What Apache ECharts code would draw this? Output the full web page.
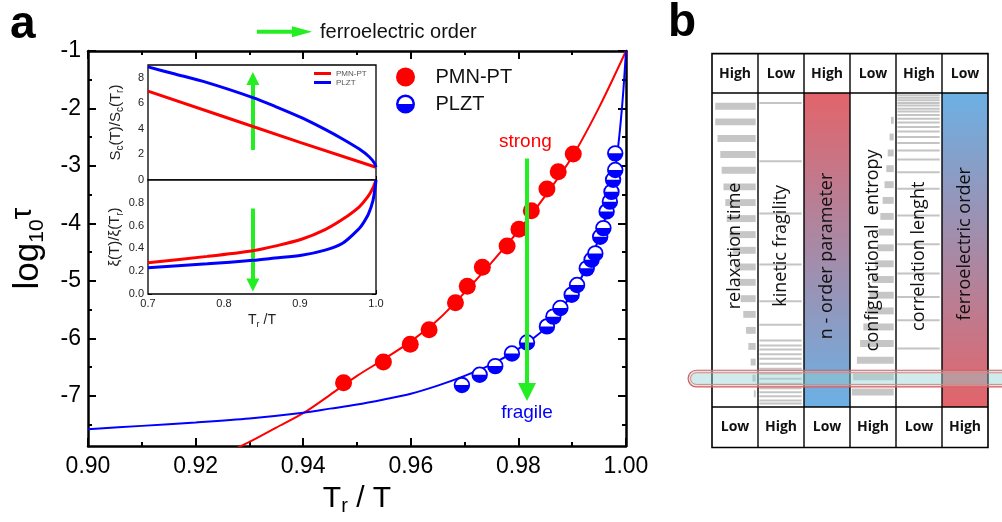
<!DOCTYPE html>
<html>
<head>
<meta charset="utf-8">
<script src="https://cdn.jsdelivr.net/npm/echarts@6/dist/echarts.min.js"></script>
<style>
html, body { margin: 0; padding: 0; background: #fff; }
#chart { width: 1002px; height: 522px; }
</style>
</head>
<body>
<div id="chart"></div>
<script>
// ---------- Panel a: relaxation time vs reduced temperature ----------
const pmnPoints = [[0.9475,-6.77],[0.9549,-6.41],[0.9599,-6.10],[0.9634,-5.85],[0.9683,-5.38],[0.9705,-5.09],[0.9733,-4.76],[0.9779,-4.39],[0.9801,-4.10],[0.9824,-3.78],[0.9853,-3.40],[0.9874,-3.10],[0.9902,-2.79]];
const plztPoints = [[0.9695,-6.81],[0.9728,-6.63],[0.9757,-6.48],[0.9788,-6.26],[0.9816,-6.07],[0.9853,-5.79],[0.9865,-5.62],[0.9878,-5.47],[0.9899,-5.24],[0.9909,-5.07],[0.9927,-4.78],[0.9936,-4.63],[0.9943,-4.52],[0.9952,-4.23],[0.9958,-4.08],[0.9964,-3.79],[0.9970,-3.62],[0.9973,-3.45],[0.9976,-3.24],[0.9980,-3.07],[0.9980,-2.78]];
const pmnFit = [[0.926,-7.98],[0.930,-7.80],[0.935,-7.55],[0.940,-7.30],[0.945,-6.98],[0.950,-6.65],[0.955,-6.36],[0.960,-6.05],[0.965,-5.68],[0.970,-5.20],[0.975,-4.68],[0.980,-4.13],[0.985,-3.52],[0.990,-2.84],[0.995,-1.98],[1.000,-1.00]];
const plztFit = [[0.900,-7.58],[0.910,-7.52],[0.920,-7.46],[0.930,-7.39],[0.940,-7.29],[0.945,-7.22],[0.950,-7.15],[0.955,-7.06],[0.960,-6.96],[0.965,-6.82],[0.970,-6.65],[0.975,-6.45],[0.980,-6.18],[0.985,-5.82],[0.990,-5.22],[0.993,-4.70],[0.995,-4.25],[0.997,-3.60],[0.998,-3.05],[0.9985,-2.70],[0.999,-2.25],[0.9995,-1.70],[1.000,-1.00]];
const yTicks = [-7,-6,-5,-4,-3,-2,-1];
const yMinorTicks = [-7.5,-6.5,-5.5,-4.5,-3.5,-2.5,-1.5];

// inset: configurational entropy and correlation length ratios
const scPmn = [[0.70,6.95],[0.80,4.95],[0.90,2.95],[1.00,1.00]];
const scPlzt = [[0.70,8.85],[0.733,8.33],[0.778,7.62],[0.838,6.45],[0.867,5.77],[0.902,4.88],[0.933,3.96],[0.956,3.21],[0.978,2.42],[0.991,1.82],[0.998,1.32],[1.00,1.00]];
const xiPmn = [[0.70,0.275],[0.778,0.33],[0.838,0.38],[0.867,0.42],[0.902,0.48],[0.933,0.565],[0.956,0.655],[0.978,0.765],[0.990,0.86],[0.996,0.93],[1.00,1.00]];
const xiPlzt = [[0.70,0.23],[0.778,0.265],[0.838,0.295],[0.867,0.315],[0.902,0.34],[0.933,0.385],[0.956,0.445],[0.978,0.575],[0.984,0.63],[0.990,0.70],[0.996,0.82],[0.999,0.94],[1.00,1.00]];

// arrows (tail, head) in data units
const fragilityArrow = [[0.9816,-2.87],[0.9816,-6.93]];
const entropyArrow = [[0.838,2.35],[0.838,7.95]];
const lengthArrow = [[0.838,0.75],[0.838,0.08]];

// ---------- Panel b: schematic of the quantities ----------
const bColumns = ['relaxation time','kinetic fragility','n - order parameter','configurational  entropy','correlation lenght','ferroelectric order'];
const bTop = ['High','Low','High','Low','High','Low'];
const bBottom = ['Low','High','Low','High','Low','High'];
const relaxPos = [4.2,9.2,14.5,19.6,24.6,29.9,34.9,40.0,45.1,50.1,55.4,60.3,65.5,70.5,75.6,80.7,85.7,90.8,95.8];
const relaxLen = [0.88,0.88,0.83,0.77,0.74,0.70,0.66,0.63,0.57,0.50,0.45,0.38,0.33,0.27,0.21,0.16,0.11,0.07,0.04];
const kineticLines = [3.2,21.7,38.4,54.6,66.3,73.8,78.8,80.4,81.7,83.2,84.6,86.2,87.8,89.4,91.0,92.6,94.0,95.3,96.6,97.9,98.9];
const entropyPos = [8.7,14.0,19.1,24.1,29.2,34.2,39.3,44.3,49.3,54.4,59.4,64.4,69.4,74.5,79.8,85.1,90.4,95.2];
const entropyLen = [0.06,0.09,0.13,0.16,0.20,0.24,0.29,0.33,0.36,0.41,0.47,0.53,0.58,0.66,0.73,0.80,0.88,0.91];
const correlationLines = [0.7,1.5,2.3,3.2,4.0,5.0,5.9,7.0,8.2,9.4,10.8,12.3,14.0,15.9,18.3,21.2,25.2,30.5,39.0,48.2,57.5,65.0,72.4,81.4];
const highlightBand = [88.3, 93.6];

const RED = '#ff0000', BLUE = '#0000ff', GREEN = '#22ee22';
const SANS = 'Liberation Sans, Arial, sans-serif';
const OPEN = 'Open Sans, sans-serif';
const HALF_ICON = 'path://M-1,0A1,1,0,1,1,1,0A1,1,0,1,1,-1,0ZM-0.74,0L0.74,0A0.74,0.74,0,0,0,-0.74,0Z';

function mainTicks(values, len) {
  return { show: true, inside: true, length: len, customValues: values, lineStyle: { color: '#000', width: 2 } };
}

const arrowMark = (pair, size, width) => ({
  silent: true,
  symbol: ['none', 'triangle'],
  symbolSize: size,
  label: { show: false },
  emphasis: { disabled: true },
  itemStyle: { color: GREEN },
  lineStyle: { color: GREEN, width: width, type: 'solid', opacity: 1 },
  data: [[{ coord: pair[0] }, { coord: pair[1] }]]
});

const insetTick = { show: true, inside: true, length: 4, lineStyle: { color: '#000', width: 1 } };
const insetMinor = { show: true, splitNumber: 2, length: 2, lineStyle: { color: '#000', width: 1 } };
const subRich = (big, small, color) => ({
  t: { fontSize: big, lineHeight: big + 4, color: color, fontFamily: SANS },
  s: { fontSize: small, lineHeight: small, verticalAlign: 'bottom', color: color, fontFamily: SANS }
});

const option = {
  animation: false,
  backgroundColor: '#fff',
  textStyle: { fontFamily: SANS },
  grid: [
    { left: 87, top: 51, width: 539, height: 395, show: false },
    { left: 148, top: 65, width: 228, height: 115, show: true, backgroundColor: '#fff', borderColor: '#000', borderWidth: 1.3, z: 3 },
    { left: 148, top: 180, width: 228, height: 114, show: true, backgroundColor: '#fff', borderColor: '#000', borderWidth: 1.3, z: 3 },
    { left: 712, top: 93, width: 276, height: 314, show: false }
  ],
  xAxis: [
    { gridIndex: 0, type: 'value', position: 'bottom', min: 0.9, max: 1.0, interval: 0.02,
      axisLine: { onZero: false, lineStyle: { color: '#000', width: 2.5 } },
      axisTick: { inside: true, length: 8, lineStyle: { color: '#000', width: 2 } },
      minorTick: { show: true, splitNumber: 2, length: 4, lineStyle: { color: '#000', width: 2 } },
      splitLine: { show: false },
      axisLabel: { formatter: v => v.toFixed(2), fontSize: 23, color: '#000', margin: 9 },
      name: '{t|T}{s|r}{t| / T}', nameLocation: 'middle', nameGap: 36,
      nameTextStyle: { rich: subRich(30, 20, '#000') } },
    { gridIndex: 0, type: 'value', position: 'top', min: 0.9, max: 1.0, interval: 0.02,
      axisLine: { onZero: false, lineStyle: { color: '#000', width: 2.5 } },
      axisTick: { inside: true, length: 8, lineStyle: { color: '#000', width: 2 } },
      minorTick: { show: true, splitNumber: 2, length: 4, lineStyle: { color: '#000', width: 2 } },
      splitLine: { show: false }, axisLabel: { show: false } },
    { gridIndex: 1, type: 'value', min: 0.7, max: 1.0, interval: 0.1,
      axisLine: { show: false, onZero: false }, axisTick: insetTick, minorTick: insetMinor,
      splitLine: { show: false }, axisLabel: { show: false } },
    { gridIndex: 2, type: 'value', min: 0.7, max: 1.0, interval: 0.1,
      axisLine: { show: false, onZero: false }, axisTick: insetTick, minorTick: insetMinor,
      splitLine: { show: false },
      axisLabel: { formatter: v => v.toFixed(1), fontSize: 11, color: '#222', margin: 4 },
      name: '{t|T}{s|r}{t| /T}', nameLocation: 'middle', nameGap: 17,
      nameTextStyle: { rich: subRich(14, 9, '#222') } },
    { gridIndex: 3, type: 'value', min: 0, max: 6, show: false }
  ],
  yAxis: [
    { gridIndex: 0, type: 'value', position: 'left', min: -7.87, max: -1,
      axisLine: { show: true, onZero: false, lineStyle: { color: '#000', width: 2.5 } },
      axisTick: mainTicks(yTicks, 8),
      axisLabel: { customValues: yTicks, fontSize: 23, color: '#000', margin: 7 },
      splitLine: { show: false },
      name: '{t|log}{s|10}{u|τ}', nameLocation: 'middle', nameGap: 40,
      nameTextStyle: { rich: {
        t: { fontSize: 35, lineHeight: 40, color: '#000', fontFamily: SANS },
        s: { fontSize: 21, lineHeight: 21, verticalAlign: 'bottom', color: '#000', fontFamily: SANS },
        u: { fontSize: 30, lineHeight: 30, verticalAlign: 'top', color: '#000', fontFamily: SANS } } } },
    { gridIndex: 0, type: 'value', position: 'left', min: -7.87, max: -1,
      axisLine: { show: false, onZero: false }, axisTick: mainTicks(yMinorTicks, 4),
      axisLabel: { show: false }, splitLine: { show: false } },
    { gridIndex: 0, type: 'value', position: 'right', min: -7.87, max: -1,
      axisLine: { show: true, onZero: false, lineStyle: { color: '#000', width: 2.5 } },
      axisTick: mainTicks(yTicks, 8), axisLabel: { show: false }, splitLine: { show: false } },
    { gridIndex: 0, type: 'value', position: 'right', min: -7.87, max: -1,
      axisLine: { show: false, onZero: false }, axisTick: mainTicks(yMinorTicks, 4),
      axisLabel: { show: false }, splitLine: { show: false } },
    { gridIndex: 1, type: 'value', position: 'left', min: 0, max: 9, interval: 2,
      axisLine: { show: false, onZero: false }, axisTick: insetTick, minorTick: insetMinor,
      splitLine: { show: false },
      axisLabel: { fontSize: 11, color: '#222', margin: 4, showMaxLabel: false },
      name: '{t|S}{s|c}{t|(T)/S}{s|c}{t|(T}{s|r}{t|)}', nameLocation: 'middle', nameGap: 23,
      nameTextStyle: { rich: subRich(15, 10, '#222') } },
    { gridIndex: 1, type: 'value', position: 'right', min: 0, max: 9, interval: 2,
      axisLine: { show: false, onZero: false }, axisTick: insetTick, minorTick: insetMinor,
      splitLine: { show: false }, axisLabel: { show: false } },
    { gridIndex: 2, type: 'value', position: 'left', min: 0, max: 1, interval: 0.2,
      axisLine: { show: false, onZero: false }, axisTick: insetTick, minorTick: insetMinor,
      splitLine: { show: false },
      axisLabel: { formatter: v => v.toFixed(1), fontSize: 11, color: '#222', margin: 4, showMaxLabel: false },
      name: '{t|ξ(T)/ξ(T}{s|r}{t|)}', nameLocation: 'middle', nameGap: 23,
      nameTextStyle: { rich: subRich(15, 10, '#222') } },
    { gridIndex: 2, type: 'value', position: 'right', min: 0, max: 1, interval: 0.2,
      axisLine: { show: false, onZero: false }, axisTick: insetTick, minorTick: insetMinor,
      splitLine: { show: false }, axisLabel: { show: false } },
    { gridIndex: 3, type: 'value', min: 0, max: 100, inverse: true, show: false }
  ],
  legend: [
    { data: [{ name: 'PMN-PT', icon: 'circle' }, { name: 'PLZT', icon: HALF_ICON }],
      orient: 'vertical', left: 391, top: 62, itemWidth: 50, itemHeight: 19, itemGap: 7,
      selectedMode: false, textStyle: { fontSize: 20, color: '#111', fontFamily: SANS } },
    { data: [{ name: 'PMN-PT', icon: 'rect' }, { name: 'PLZT', icon: 'rect' }],
      orient: 'vertical', left: 309, top: 64, itemWidth: 17, itemHeight: 3, itemGap: 0, z: 10,
      selectedMode: false, textStyle: { fontSize: 8, lineHeight: 9, color: '#555', fontFamily: SANS } }
  ],
  series: [
    { name: 'PMN-PT', type: 'scatter', xAxisIndex: 0, yAxisIndex: 0, data: pmnPoints,
      symbol: 'circle', symbolSize: 17, itemStyle: { color: RED, opacity: 1 }, z: 4 },
    { name: 'PLZT', type: 'custom', xAxisIndex: 0, yAxisIndex: 0, data: plztPoints,
      itemStyle: { color: BLUE }, z: 4,
      encode: { x: 0, y: 1 },
      renderItem: (params, api) => {
        const p = api.coord([api.value(0), api.value(1)]);
        const r = 7.3;
        return { type: 'group', children: [
          { type: 'circle', shape: { cx: p[0], cy: p[1], r: r }, style: { fill: '#fff', stroke: BLUE, lineWidth: 1.8 } },
          { type: 'sector', shape: { cx: p[0], cy: p[1], r0: 0, r: r, startAngle: 0, endAngle: Math.PI, clockwise: true }, style: { fill: BLUE } }
        ] };
      } },
    { name: 'PMN-PT fit', type: 'line', xAxisIndex: 0, yAxisIndex: 0, data: pmnFit,
      smooth: 0.3, showSymbol: false, clip: true, z: 2,
      lineStyle: { color: RED, width: 2 },
      markLine: arrowMark(fragilityArrow, 18, 4),
      markPoint: { symbol: 'circle', symbolSize: 0, silent: true,
        label: { show: true, position: 'inside', fontSize: 19, fontFamily: SANS },
        data: [
          { coord: [0.9813, -2.58], label: { formatter: 'strong', color: RED } },
          { coord: [0.9816, -7.30], label: { formatter: 'fragile', color: BLUE } }
        ] } },
    { name: 'PLZT fit', type: 'line', xAxisIndex: 0, yAxisIndex: 0, data: plztFit,
      smooth: 0.3, showSymbol: false, clip: true, z: 2,
      lineStyle: { color: BLUE, width: 2 } },

    { name: 'PMN-PT', type: 'line', xAxisIndex: 2, yAxisIndex: 4, data: scPmn,
      showSymbol: false, z: 5, lineStyle: { color: RED, width: 3 }, itemStyle: { color: RED } },
    { name: 'PLZT', type: 'line', xAxisIndex: 2, yAxisIndex: 4, data: scPlzt,
      smooth: 0.3, showSymbol: false, z: 5, lineStyle: { color: BLUE, width: 3 }, itemStyle: { color: BLUE },
      markLine: arrowMark(entropyArrow, 13, 4) },
    { name: 'PMN-PT', type: 'line', xAxisIndex: 3, yAxisIndex: 6, data: xiPmn,
      smooth: 0.3, showSymbol: false, z: 5, lineStyle: { color: RED, width: 3 }, itemStyle: { color: RED } },
    { name: 'PLZT', type: 'line', xAxisIndex: 3, yAxisIndex: 6, data: xiPlzt,
      smooth: 0.3, showSymbol: false, z: 5, lineStyle: { color: BLUE, width: 3 }, itemStyle: { color: BLUE },
      markLine: arrowMark(lengthArrow, 13, 4) },

    // panel b: coloured gradient columns
    { type: 'custom', xAxisIndex: 4, yAxisIndex: 8, data: [2, 5], silent: true, z: 1,
      renderItem: (params, api) => {
        const col = api.value(0);
        const a = api.coord([col, 0]), b = api.coord([col + 1, 100]);
        const warm = '#e2646a', cool = '#6cb0e4';
        const top = params.dataIndex === 0 ? warm : cool;
        const bottom = params.dataIndex === 0 ? cool : warm;
        return { type: 'rect', shape: { x: a[0], y: a[1], width: b[0] - a[0], height: b[1] - a[1] },
          style: { fill: new echarts.graphic.LinearGradient(0, 0, 0, 1, [{ offset: 0, color: top }, { offset: 1, color: bottom }]) } };
      } },
    // panel b: grey bars
    { type: 'custom', xAxisIndex: 4, yAxisIndex: 8, silent: true, z: 2,
      data: relaxPos.map((p, i) => [0, p, relaxLen[i]]).concat(entropyPos.map((p, i) => [3, p, entropyLen[i]])),
      renderItem: (params, api) => {
        const col = api.value(0), pos = api.value(1), len = api.value(2);
        const a = api.coord([col + 0.95 - len, pos - 1.1]), b = api.coord([col + 0.95, pos + 1.1]);
        return { type: 'rect', shape: { x: a[0], y: a[1], width: b[0] - a[0], height: b[1] - a[1] }, style: { fill: '#c6c6c6' } };
      } },
    // panel b: thin grey lines
    { type: 'custom', xAxisIndex: 4, yAxisIndex: 8, silent: true, z: 2,
      data: kineticLines.map(p => [1, p]).concat(correlationLines.map(p => [4, p])),
      renderItem: (params, api) => {
        const col = api.value(0), pos = api.value(1);
        const a = api.coord([col + 0.03, pos]), b = api.coord([col + 0.95, pos]);
        return { type: 'rect', shape: { x: a[0], y: a[1] - 1, width: b[0] - a[0], height: 2 }, style: { fill: '#c4c4c4' } };
      } },
    // panel b: table frame
    { type: 'custom', xAxisIndex: 4, yAxisIndex: 8, silent: true, z: 3, data: [0],
      renderItem: (params, api) => {
        const tl = api.coord([0, -12.55]), br = api.coord([6, 112.9]);
        const y0 = api.coord([0, 0])[1], y1 = api.coord([0, 100])[1];
        const children = [
          { type: 'rect', shape: { x: tl[0], y: tl[1], width: br[0] - tl[0], height: br[1] - tl[1] }, style: { fill: 'none', stroke: '#000', lineWidth: 1.6 } },
          { type: 'line', shape: { x1: tl[0], y1: y0, x2: br[0], y2: y0 }, style: { stroke: '#000', lineWidth: 1.4 } },
          { type: 'line', shape: { x1: tl[0], y1: y1, x2: br[0], y2: y1 }, style: { stroke: '#000', lineWidth: 1.4 } }
        ];
        for (let c = 1; c < 6; c++) {
          const x = api.coord([c, 0])[0];
          children.push({ type: 'line', shape: { x1: x, y1: tl[1], x2: x, y2: br[1] }, style: { stroke: '#000', lineWidth: 1.4 } });
        }
        return { type: 'group', children: children };
      } },
    // panel b: highlighted temperature band
    { type: 'custom', xAxisIndex: 4, yAxisIndex: 8, silent: true, z: 4, data: [highlightBand],
      renderItem: (params, api) => {
        const a = api.coord([-0.52, api.value(0)]), b = api.coord([6.6, api.value(1)]);
        const h = b[1] - a[1];
        return { type: 'group', children: [
          { type: 'rect', shape: { x: a[0], y: a[1], width: b[0] - a[0], height: h, r: h / 2 },
            style: { fill: 'rgba(150,210,210,0.45)', stroke: '#e05a5a', lineWidth: 1.2 } },
          { type: 'rect', shape: { x: a[0] + 2.5, y: a[1] + 2.5, width: b[0] - a[0] - 5, height: h - 5, r: h / 2 - 2.5 },
            style: { fill: 'none', stroke: '#e88080', lineWidth: 1 } }
        ] };
      } },
    // panel b: header / footer words and rotated column titles
    { type: 'custom', xAxisIndex: 4, yAxisIndex: 8, silent: true, z: 5,
      data: bColumns.map((name, i) => [i]),
      renderItem: (params, api) => {
        const i = params.dataIndex;
        const col = api.value(0);
        const labelCenter = [48.7, 48.7, 51.9, 50.1, 52.0, 48.0];
        const pt = api.coord([col + 0.5, -5.95]);
        const pb = api.coord([col + 0.5, 106.5]);
        const pc = api.coord([col + 0.5, labelCenter[i]]);
        return { type: 'group', children: [
          { type: 'text', x: pt[0], y: pt[1], style: { text: bTop[i], fill: '#111', fontSize: 14, fontWeight: 'bold', fontFamily: OPEN, align: 'center', verticalAlign: 'middle' } },
          { type: 'text', x: pb[0], y: pb[1], style: { text: bBottom[i], fill: '#111', fontSize: 14, fontWeight: 'bold', fontFamily: OPEN, align: 'center', verticalAlign: 'middle' } },
          { type: 'text', x: pc[0], y: pc[1], rotation: Math.PI / 2, style: { text: bColumns[i], fill: '#111', fontSize: 18, fontFamily: OPEN, align: 'center', verticalAlign: 'middle' } }
        ] };
      } }
  ],
  graphic: [
    { type: 'text', left: 10, top: 2, style: { text: 'a', fontSize: 46, fontWeight: 'bold', fill: '#000', fontFamily: SANS } },
    { type: 'text', left: 668, top: 0, style: { text: 'b', fontSize: 46, fontWeight: 'bold', fill: '#000', fontFamily: SANS } },
    { type: 'line', shape: { x1: 257, y1: 31.7, x2: 296, y2: 31.7 }, style: { stroke: GREEN, lineWidth: 4 } },
    { type: 'polygon', shape: { points: [[292, 26.2], [312, 31.7], [292, 37.2]] }, style: { fill: GREEN } },
    { type: 'text', x: 320, y: 32, style: { text: 'ferroelectric order', fontSize: 20, fill: '#111', fontFamily: SANS, verticalAlign: 'middle' } }
  ]
};

const chart = echarts.init(document.getElementById('chart'));
chart.setOption(option);
</script>
</body>
</html>
